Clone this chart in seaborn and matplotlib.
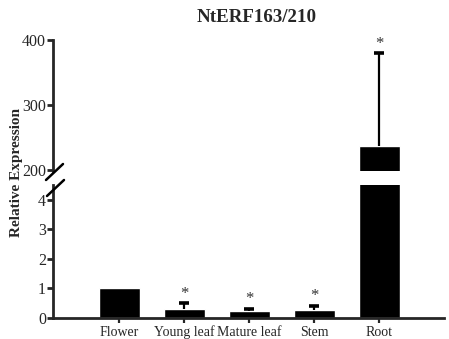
import matplotlib
matplotlib.use("Agg")
import matplotlib.pyplot as plt
import seaborn as sns
import pandas as pd
import numpy as np

tissues = ["Flower", "Young leaf", "Mature leaf", "Stem", "Root"]
means = [1.02, 0.3, 0.22, 0.28, 237.0]
errs = [0.0, 0.2, 0.1, 0.13, 143.0]
stars = ["", "*", "*", "*", "*"]
top_ticks = [200, 300, 400]
bottom_ticks = [0, 1, 2, 3, 4]

df = pd.DataFrame({"Tissue": tissues, "Expression": means})

sns.set_style("ticks")
plt.rcParams["font.family"] = ["Liberation Serif", "DejaVu Serif"]

W, H = 449, 339
fig = plt.figure(figsize=(W / 100, H / 100), dpi=100)

def fx(px):
    return px / W

def fy(py):
    return 1 - py / H

x0, x1 = 53, 444
ax_top = fig.add_axes([fx(x0), fy(171), fx(x1) - fx(x0), fy(40) - fy(171)])
ax_bot = fig.add_axes([fx(x0), fy(318), fx(x1) - fx(x0), fy(185) - fy(318)])

pos = np.arange(len(tissues))
m_arr = np.array(means)
e_arr = np.array(errs)
has_err = e_arr > 0

for ax in (ax_top, ax_bot):
    sns.barplot(data=df, x="Tissue", y="Expression", color="black",
                width=0.63, errorbar=None, ax=ax, saturation=1)
    ax.vlines(pos[has_err], m_arr[has_err], (m_arr + e_arr)[has_err],
              color="black", lw=1.6)
    ax.hlines((m_arr + e_arr)[has_err], pos[has_err] - 0.08,
              pos[has_err] + 0.08, color="black", lw=2.6)
    ax.set_xlim(-1.02, 5.0)
    ax.set_xlabel("")
    ax.set_ylabel("")
    for sp in ("top", "right"):
        ax.spines[sp].set_visible(False)
    ax.spines["left"].set_linewidth(2.0)
    ax.spines["bottom"].set_linewidth(2.0)
    ax.tick_params(axis="y", length=4, width=2, labelsize=11.5, pad=1)
    ax.patch.set_alpha(0)

ax_top.set_ylim(198, 400)
ax_top.set_yticks(top_ticks)
ax_top.spines["bottom"].set_visible(False)
ax_top.set_xticks([])

ax_bot.set_ylim(0, 4.5)
ax_bot.set_yticks(bottom_ticks)
ax_bot.tick_params(axis="x", length=3.5, width=1.6, labelsize=10, pad=2)

# asterisks
for i, (m, e, s) in enumerate(zip(means, errs, stars)):
    if not s:
        continue
    if m > 100:
        target = ax_top
    else:
        target = ax_bot
    target.annotate(s, (i, m + e), xytext=(0, 1), textcoords="offset points",
                    ha="center", va="bottom", fontsize=12, color="#333333")

# break marks
for (xa, ya, xb, yb) in [(46, 180, 63, 164), (47, 196, 64, 180)]:
    fig.add_artist(plt.Line2D([fx(xa), fx(xb)], [fy(ya), fy(yb)],
                              color="black", lw=1.8, transform=fig.transFigure))

fig.text(0.572, fy(17), "NtERF163/210", ha="center", va="center",
         fontsize=13.7, fontweight="bold")
fig.text(fx(17), fy(172), "Relative Expression", ha="center", va="center",
         rotation=90, fontsize=11, fontweight="bold")

fig.savefig("out.png", dpi=100)
